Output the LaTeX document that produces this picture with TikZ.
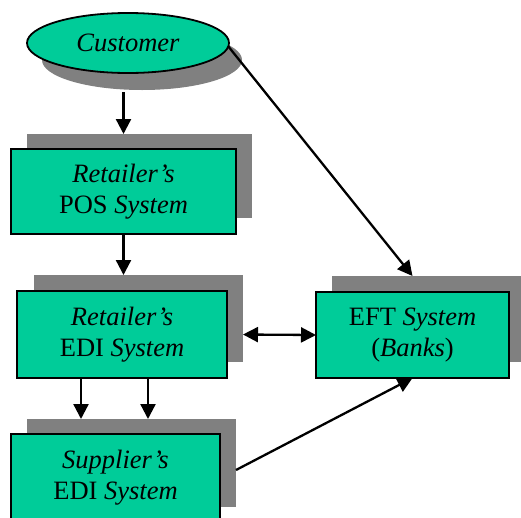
\documentclass[tikz,border=0pt]{standalone}
\usepackage{fontspec}
\setmainfont{Liberation Serif}
\usetikzlibrary{shapes.geometric,arrows.meta,calc}
\definecolor{boxgreen}{RGB}{0,204,153}
\definecolor{shadowgray}{RGB}{128,128,128}
\begin{document}
\begin{tikzpicture}[x=1pt,y=-1pt,
  every node/.style={inner sep=0pt,outer sep=0pt,align=center,
    font=\fontsize{26.5}{31}\selectfont},
  sysbox/.style={rectangle,fill=boxgreen,draw=black,line width=1.8pt},
  shadowbox/.style={rectangle,fill=shadowgray,draw=none},
  tip/.style={Triangle[length=15pt,width=15pt]},
  flow/.style={line width=2.3pt,-{Triangle[length=15pt,width=15pt]}},
  twoway/.style={line width=2.3pt,{Triangle[length=15pt,width=15pt]}-{Triangle[length=15pt,width=15pt]}}]
\useasboundingbox (0,0) rectangle (521,517);
\clip (0,0) rectangle (521,517);
\fill[white] (0,0) rectangle (521,517);

% customer ellipse with its drop shadow
\node[ellipse,fill=shadowgray,minimum width=200pt,minimum height=60pt] (custS) at (142,60) {};
\node[ellipse,fill=boxgreen,draw=black,line width=1.8pt,minimum width=202pt,minimum height=60pt] (cust) at (128,43) {\itshape Customer};

% shadows behind the system boxes
\node[shadowbox,minimum width=225pt,minimum height=84pt] (posS) at (139.5,176) {};
\node[shadowbox,minimum width=209pt,minimum height=87pt] (ediS) at (138.5,318.5) {};
\node[shadowbox,minimum width=209pt,minimum height=88pt] (supS) at (131.5,463) {};
\node[shadowbox,minimum width=193pt,minimum height=86pt] (eftS) at (428.5,319) {};

% system boxes
\node[sysbox,minimum width=225pt,minimum height=85pt] (pos) at (123.5,191.5)
  {\itshape Retailer’s\\POS \itshape System};
\node[sysbox,minimum width=210pt,minimum height=87pt] (edi) at (122,334.5)
  {\itshape Retailer’s\\EDI \itshape System};
\node[sysbox,minimum width=209pt,minimum height=88pt] (sup) at (115.5,478)
  {\itshape Supplier’s\\EDI \itshape System};
\node[sysbox,minimum width=193pt,minimum height=86pt] (eft) at (412.5,335)
  {EFT \textit{System}\\(\textit{Banks})};

% connectors
\draw[flow] ($(pos.north |- custS.south)+(0,2)$) -- (pos.north |- posS.north);
\draw[flow] (pos.south) -- (pos.south |- ediS.north);
\draw[flow] ([xshift=-41pt]edi.south) -- ([xshift=-41pt]edi.south |- supS.north);
\draw[flow] ([xshift=26pt]edi.south) -- ([xshift=26pt]edi.south |- supS.north);
\draw[twoway] (edi.east -| ediS.east) -- (eft.west);
\draw[flow] ($(cust.east)+(-1,3)$) -- (eft.north |- eftS.north);
\draw[flow] ($(supS.east)+(0,7)$) -- (eft.south);
\end{tikzpicture}
\end{document}
